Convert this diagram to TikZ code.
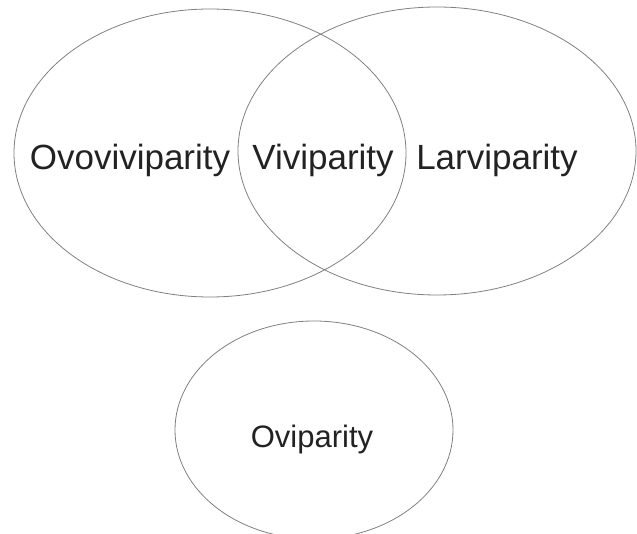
\documentclass[tikz,border=0pt]{standalone}
\usepackage{fontspec}
\setmainfont{Liberation Sans}
\definecolor{ringcol}{HTML}{808080}
\definecolor{txtcol}{HTML}{222222}
\tikzset{
  ring/.style={draw=ringcol, line width=0.8pt},
  lbl/.style={text=txtcol, font=\fontsize{35}{40}\selectfont, inner sep=0pt, anchor=base},
  lblsmall/.style={text=txtcol, font=\fontsize{31}{36}\selectfont, inner sep=0pt, anchor=base}
}
\begin{document}
\begin{tikzpicture}[x=1pt,y=1pt]
\useasboundingbox (0,0) rectangle (637,533);
\clip (0,0) rectangle (637,533);
\draw[ring] (210,380) ellipse [x radius=196, y radius=144];
\draw[ring] (437,382) ellipse [x radius=199, y radius=144];
\draw[ring] (314,103) ellipse [x radius=139, y radius=109];
\node[lbl] (ovo) at (130,363) {Ovoviviparity};
\node[lbl] (vivi) at (323,363) {Viviparity};
\node[lbl] (larv) at (497,363) {Larviparity};
\node[lblsmall] (ovi) at (312,86) {Oviparity};
\end{tikzpicture}
\end{document}
